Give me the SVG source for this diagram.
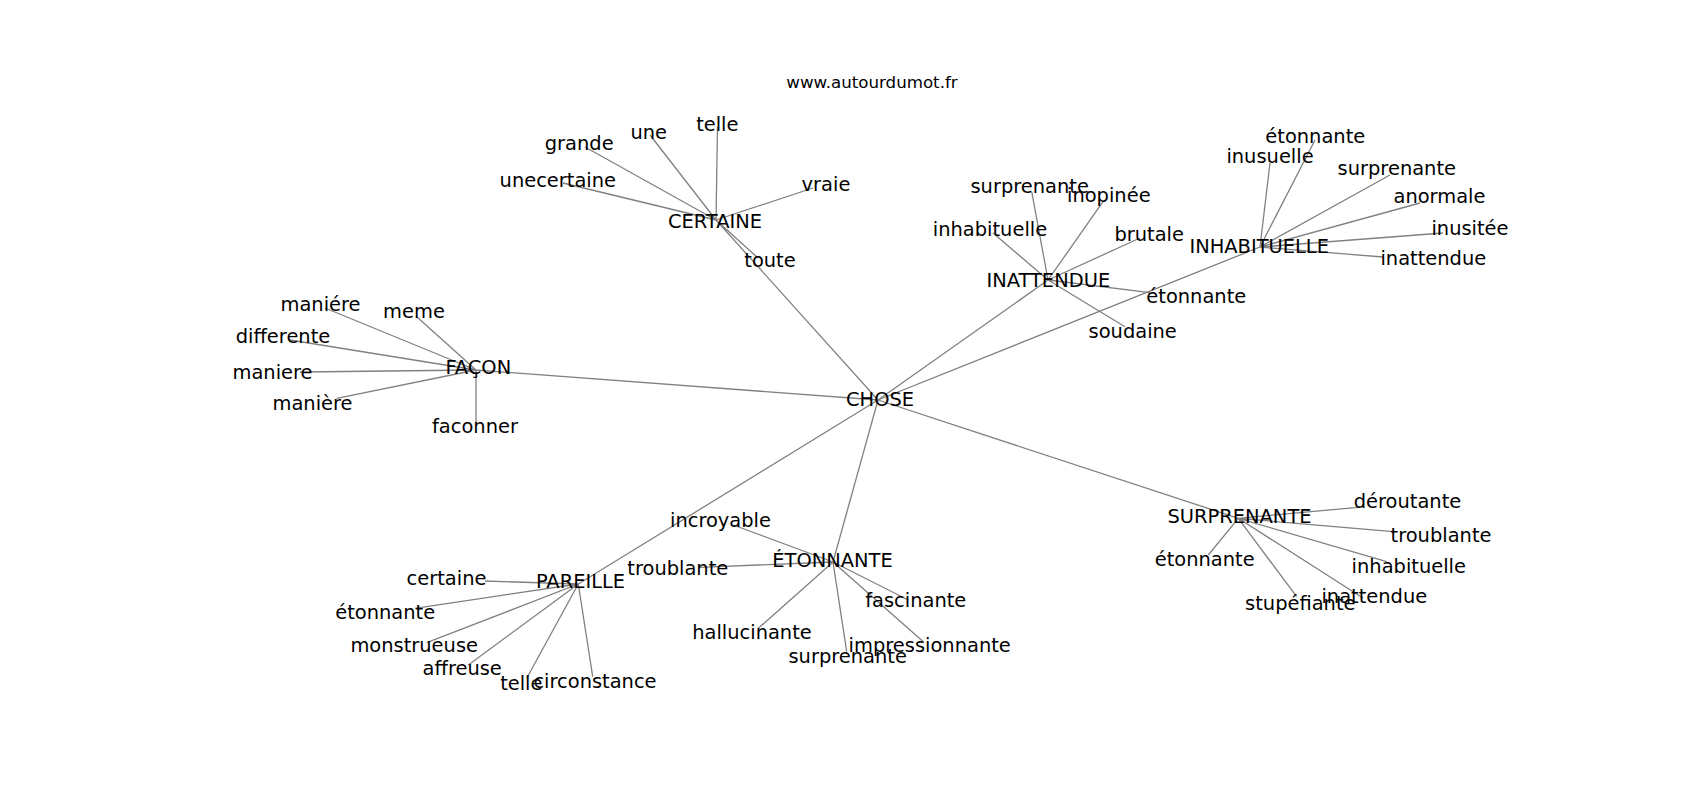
<svg xmlns="http://www.w3.org/2000/svg" width="1700" height="800" viewBox="0 0 1700 800">
<style>
.e{stroke:#808080;stroke-width:1.3;fill:none}
text{font-family:"DejaVu Sans","Liberation Sans",sans-serif;font-size:19.44px;fill:#000;text-anchor:middle}
.t{font-size:16.67px}
</style>
<rect width="1700" height="800" fill="#fff"/>
<text class="t" x="872" y="88">www.autourdumot.fr</text>
<g id="edges">
<path class="e" d="M716 220L717.5 127M716 220L650 135M716 220L585 147M716 220L563 183M716 220L813 188M716 220L758 258M716 220L878 400"/>
<path class="e" d="M1048 280L1031.7 191.7M1048 280L1103 201.7M1048 280L993 233M1048 280L1140 238M1048 280L1150 292.7M1048 280L1125 326.7M1048 280L878 400"/>
<path class="e" d="M1260 247L1315 140M1260 247L1270 163M1260 247L1390 175M1260 247L1420 203M1260 247L1443 233M1260 247L1383 257M1260 247L878 400"/>
<path class="e" d="M476 370L325 308M476 370L416.7 316.7M476 370L290 340M476 370L300 372M476 370L336.7 398.3M476 370L476 423M476 370L878 400"/>
<path class="e" d="M578.3 584L485 581M578.3 584L415 608.3M578.3 584L426.7 642.7M578.3 584L468.3 665M578.3 584L526.7 678.3M578.3 584L592.7 676.7M578.3 584L878 400"/>
<path class="e" d="M833 562L733.3 525M833 562L700 567.3M833 562L908.3 600M833 562L758.3 628.3M833 562L923.3 641.7M833 562L846.7 651.7M833 562L878 400"/>
<path class="e" d="M1238.3 518.3L1358.3 507.3M1238.3 518.3L1393.3 531.7M1238.3 518.3L1386.7 561.7M1238.3 518.3L1363.3 598.3M1238.3 518.3L1296.7 596.7M1238.3 518.3L1208.3 555M1238.3 518.3L878 400"/>
</g>
<g id="n-chose"><text x="880" y="406">CHOSE</text></g>
<g id="n-certaine"><text x="715" y="228.3">CERTAINE</text></g>
<g id="n-certaine-telle"><text x="717.3" y="130.7">telle</text></g>
<g id="n-certaine-une"><text x="648.8" y="139.3">une</text></g>
<g id="n-certaine-grande"><text x="579.2" y="150">grande</text></g>
<g id="n-certaine-unecertaine"><text x="557.8" y="187.3">unecertaine</text></g>
<g id="n-certaine-vraie"><text x="826" y="191">vraie</text></g>
<g id="n-certaine-toute"><text x="770" y="267.3">toute</text></g>
<g id="n-inattendue"><text x="1048.3" y="286.7">INATTENDUE</text></g>
<g id="n-inattendue-surprenante"><text x="1029.7" y="193.3">surprenante</text></g>
<g id="n-inattendue-inopinee"><text x="1108.8" y="201.7">inopinée</text></g>
<g id="n-inattendue-inhabituelle"><text x="990" y="236">inhabituelle</text></g>
<g id="n-inattendue-brutale"><text x="1149.2" y="241">brutale</text></g>
<g id="n-inattendue-etonnante"><text x="1196.3" y="302.7">étonnante</text></g>
<g id="n-inattendue-soudaine"><text x="1132.7" y="338.3">soudaine</text></g>
<g id="n-inhabituelle"><text x="1259.2" y="253.3">INHABITUELLE</text></g>
<g id="n-inhabituelle-etonnante"><text x="1315.3" y="143.3">étonnante</text></g>
<g id="n-inhabituelle-inusuelle"><text x="1270" y="162.7">inusuelle</text></g>
<g id="n-inhabituelle-surprenante"><text x="1396.8" y="175">surprenante</text></g>
<g id="n-inhabituelle-anormale"><text x="1439.5" y="203.3">anormale</text></g>
<g id="n-inhabituelle-inusitee"><text x="1470" y="235">inusitée</text></g>
<g id="n-inhabituelle-inattendue"><text x="1433.3" y="265">inattendue</text></g>
<g id="n-facon"><text x="478.3" y="374.3">FAÇON</text></g>
<g id="n-facon-maniere1"><text x="320.5" y="311">maniére</text></g>
<g id="n-facon-meme"><text x="414" y="318.3">meme</text></g>
<g id="n-facon-differente"><text x="283" y="343.3">differente</text></g>
<g id="n-facon-maniere2"><text x="272.5" y="379">maniere</text></g>
<g id="n-facon-maniere3"><text x="312.5" y="410">manière</text></g>
<g id="n-facon-faconner"><text x="475" y="432.7">faconner</text></g>
<g id="n-pareille"><text x="580.5" y="588.3">PAREILLE</text></g>
<g id="n-pareille-certaine"><text x="446.5" y="585">certaine</text></g>
<g id="n-pareille-etonnante"><text x="385.2" y="619.3">étonnante</text></g>
<g id="n-pareille-monstrueuse"><text x="414.2" y="651.7">monstrueuse</text></g>
<g id="n-pareille-affreuse"><text x="462.2" y="675">affreuse</text></g>
<g id="n-pareille-telle"><text x="521.3" y="690">telle</text></g>
<g id="n-pareille-circonstance"><text x="595" y="688.3">circonstance</text></g>
<g id="n-etonnante"><text x="832.5" y="566.7">ÉTONNANTE</text></g>
<g id="n-etonnante-incroyable"><text x="720.5" y="526.7">incroyable</text></g>
<g id="n-etonnante-troublante"><text x="677.8" y="575">troublante</text></g>
<g id="n-etonnante-fascinante"><text x="915.8" y="606.7">fascinante</text></g>
<g id="n-etonnante-hallucinante"><text x="752" y="639">hallucinante</text></g>
<g id="n-etonnante-impressionnante"><text x="929.7" y="651.7">impressionnante</text></g>
<g id="n-etonnante-surprenante"><text x="847.7" y="663.3">surprenante</text></g>
<g id="n-surprenante"><text x="1239.5" y="523.3">SURPRENANTE</text></g>
<g id="n-surprenante-deroutante"><text x="1407.5" y="508.3">déroutante</text></g>
<g id="n-surprenante-troublante"><text x="1441" y="541.7">troublante</text></g>
<g id="n-surprenante-inhabituelle"><text x="1408.8" y="573.3">inhabituelle</text></g>
<g id="n-surprenante-inattendue"><text x="1374.3" y="603.3">inattendue</text></g>
<g id="n-surprenante-stupefiante"><text x="1300.3" y="610">stupéfiante</text></g>
<g id="n-surprenante-etonnante"><text x="1204.7" y="566">étonnante</text></g>
</svg>
